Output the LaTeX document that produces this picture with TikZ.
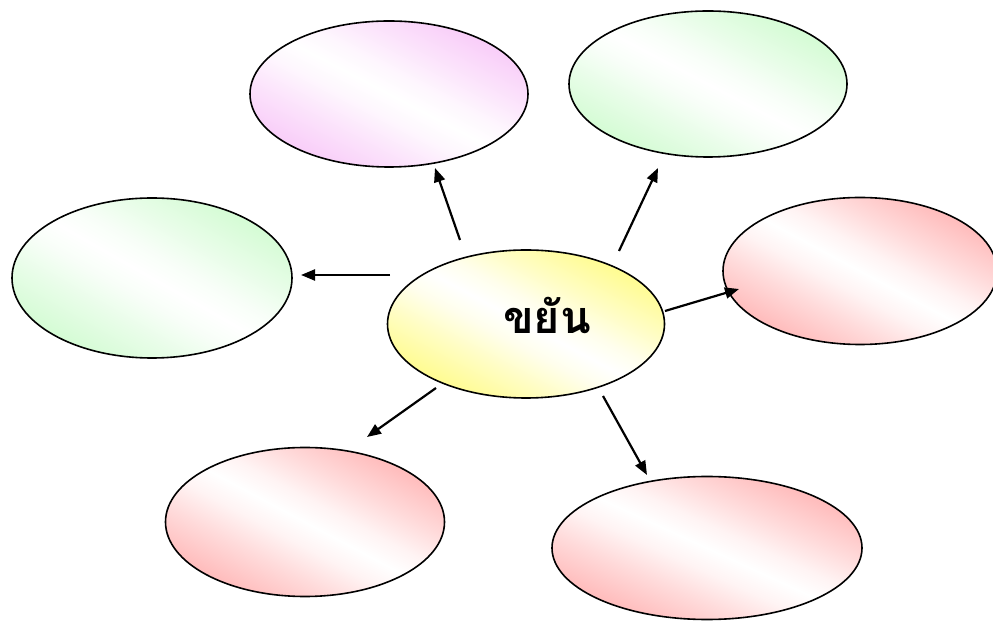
\documentclass[tikz,border=0pt]{standalone}
\usepackage{fontspec}
\newfontfamily\thaifont[Script=Thai]{Loma}
\usetikzlibrary{shapes.geometric,arrows.meta}
\definecolor{pinkc}{RGB}{246,185,246}
\definecolor{greenc}{RGB}{195,250,195}
\definecolor{redc}{RGB}{255,160,160}
\definecolor{yellowc}{RGB}{255,250,100}
\colorlet{bubcol}{white}
\pgfdeclarehorizontalshading[bubcol]{bubshade}{100bp}{%
  color(0bp)=(bubcol); color(14bp)=(bubcol!92!white); color(26bp)=(bubcol!68!white);
  color(36bp)=(bubcol!38!white); color(44bp)=(bubcol!12!white); color(50bp)=(white);
  color(56bp)=(bubcol!12!white); color(64bp)=(bubcol!38!white); color(74bp)=(bubcol!68!white);
  color(86bp)=(bubcol!92!white); color(100bp)=(bubcol)}
\tikzset{
  bubble/.style={ellipse, draw=black, line width=1.6pt, inner sep=0pt},
  link/.style={line width=2.2pt, -{Triangle[length=14pt,width=11pt]}},
}
\newcommand{\bubfill}[5]{%
  \colorlet{bubcol}{#5}%
  \begin{scope}[transform canvas={shift={(#1,#2)}, xscale=#3/2, yscale=#4/2}]
    \shade[shading=bubshade, shading angle=45] (0,0) circle (1);
  \end{scope}}
\begin{document}
\begin{tikzpicture}[x=1pt,y=1pt]
\fill[white] (0,0) rectangle (993,621);
\useasboundingbox (0,0) rectangle (993,621);
\bubfill{526}{297}{277}{148}{yellowc}
\node[bubble, minimum width=277pt, minimum height=148pt] (c) at (526,297) {};
\node[font=\thaifont\bfseries\fontsize{45}{50}\selectfont] (t) at (547,306) {ขยัน};
\bubfill{389}{527}{278}{146}{pinkc}
\node[bubble, minimum width=278pt, minimum height=146pt] (p) at (389,527) {};
\bubfill{708}{537}{278}{146}{greenc}
\node[bubble, minimum width=278pt, minimum height=146pt] (g1) at (708,537) {};
\bubfill{152}{343}{280}{160}{greenc}
\node[bubble, minimum width=280pt, minimum height=160pt] (g2) at (152,343) {};
\bubfill{860}{350}{274}{147}{redc}
\node[bubble, minimum width=274pt, minimum height=147pt] (r1) at (860,350) {};
\bubfill{305}{99}{279}{149}{redc}
\node[bubble, minimum width=279pt, minimum height=149pt] (r2) at (305,99) {};
\bubfill{707}{73}{310}{143}{redc}
\node[bubble, minimum width=310pt, minimum height=143pt] (r3) at (707,73) {};
\coordinate (s1) at (460,381); \coordinate (e1) at (435,453);
\coordinate (s2) at (619,370); \coordinate (e2) at (658,453);
\coordinate (s3) at (390,346); \coordinate (e3) at (301,346);
\coordinate (s4) at (665,310); \coordinate (e4) at (739,332);
\coordinate (s5) at (436,233); \coordinate (e5) at (367,184);
\coordinate (s6) at (603,225); \coordinate (e6) at (647,146);
\draw[link] (s1) -- (e1);
\draw[link] (s2) -- (e2);
\draw[link] (s3) -- (e3);
\draw[link] (s4) -- (e4);
\draw[link] (s5) -- (e5);
\draw[link] (s6) -- (e6);
\end{tikzpicture}
\end{document}
